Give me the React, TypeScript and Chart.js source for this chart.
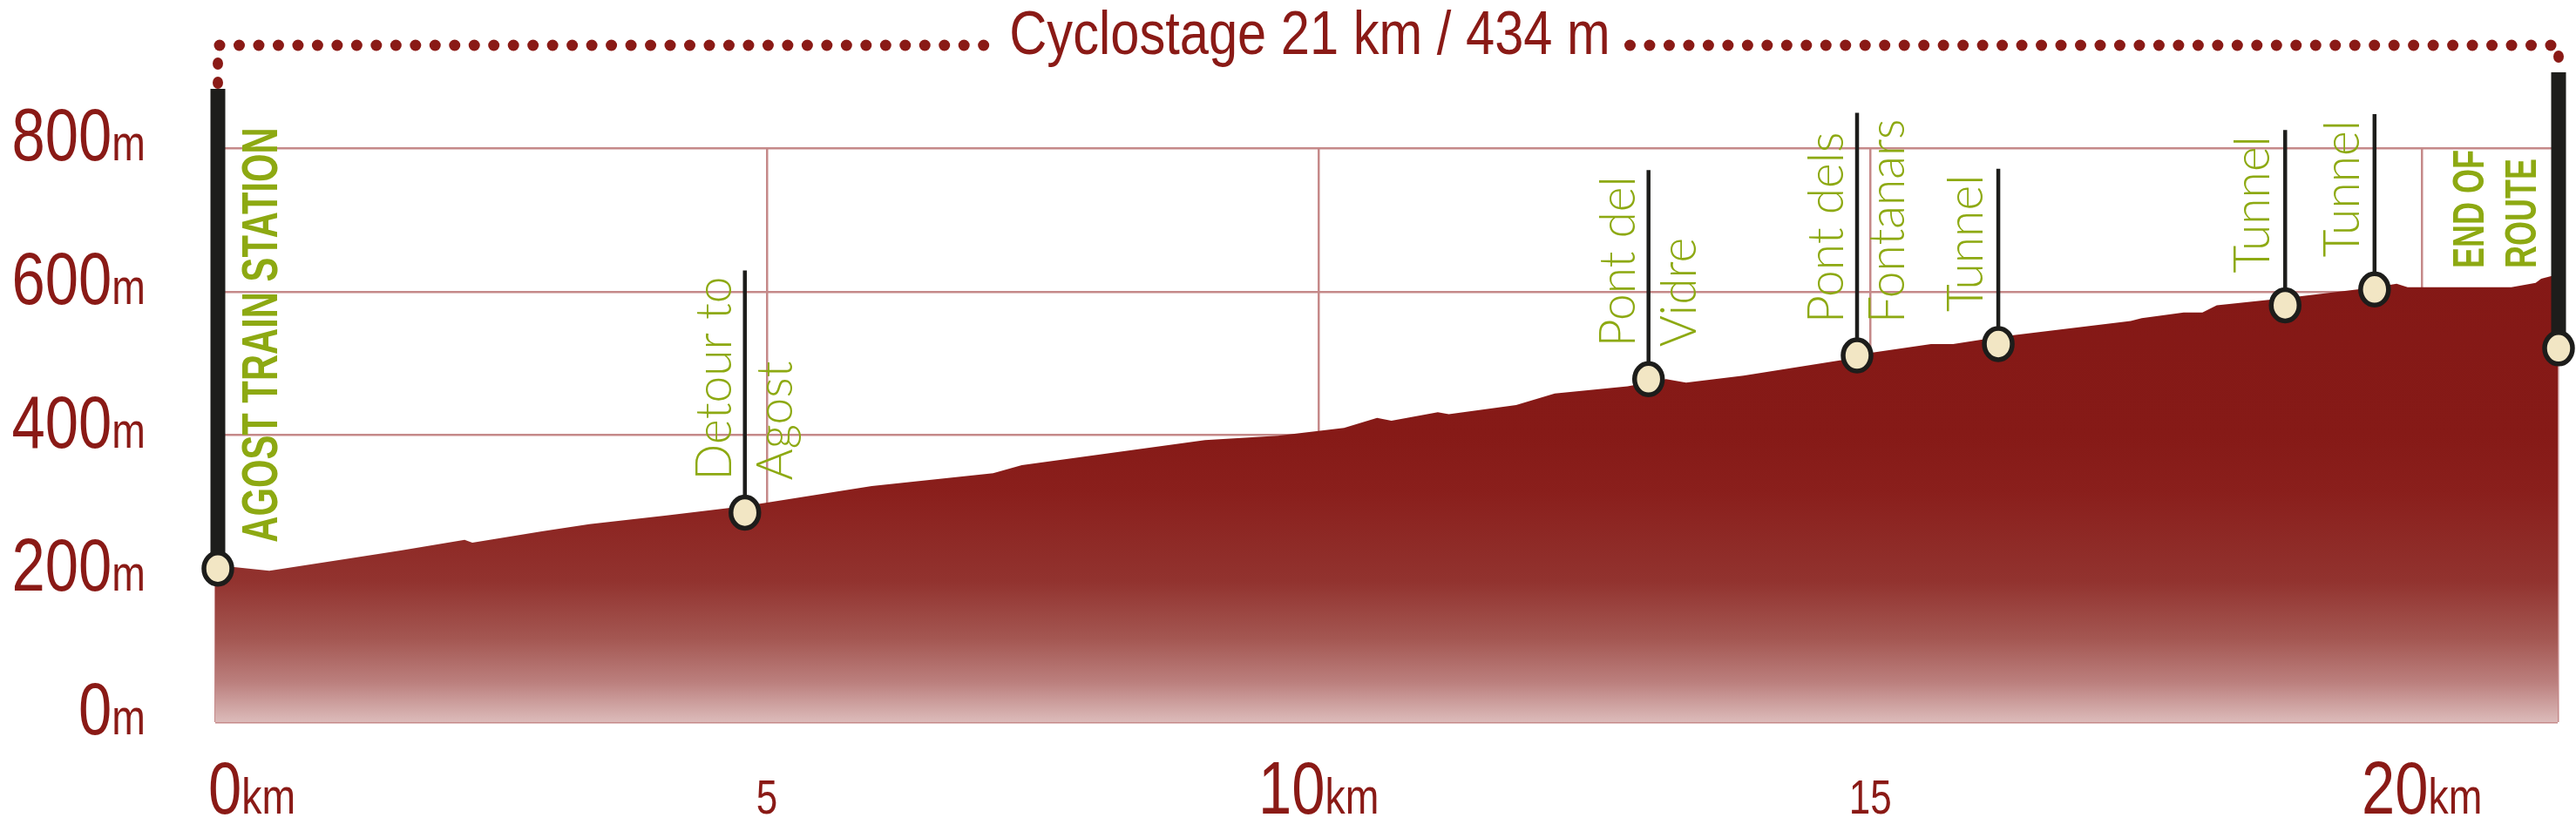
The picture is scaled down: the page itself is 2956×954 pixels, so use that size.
import React, { useEffect, useRef } from "react";
import { Chart, registerables } from "chart.js";

Chart.register(...registerables);

// ---------------- data ----------------
const TITLE = "Cyclostage 21 km / 434 m";
const ROUTE_LENGTH_KM = 21.23;

const distanceKm = [
  0, 0.17, 0.49, 1.17, 1.68, 2.26, 2.33, 2.96, 3.39, 4.09, 4.8, 5.95, 7.05, 7.31,
  8.97, 9.63, 10.23, 10.53, 10.66, 11.08, 11.18, 11.79, 12.14, 12.8, 13.15, 13.33,
  13.85, 14.76, 15.02, 15.55, 15.75, 16.17, 17.36, 17.46, 17.84, 18.01, 18.14,
  18.76, 19.58, 19.77, 19.87, 20.81, 21.03, 21.08, 21.23,
];
const elevationM = [
  214, 216, 211, 227, 239, 254, 250, 266, 276, 288, 301, 329, 347, 358,
  393, 399, 410, 424, 420, 432, 429, 442, 458, 468, 478, 473,
  483, 505, 515, 527, 527, 537, 559, 563, 571, 571, 581,
  591, 606, 611, 606, 606, 612, 618, 624,
];

const yTickValues = [0, 200, 400, 600, 800];
const yTickUnit = "m";
const xTickValues = [0, 5, 10, 15, 20];
const xTickUnits = ["km", "", "km", "", "km"];

const markerKm = [0, 4.8, 12.99, 14.88, 16.16, 18.76, 19.57, 21.23];
const markerElevation = [214, 292, 478, 511, 527, 581, 603, 521];
const markerLabels = [
  ["AGOST TRAIN STATION"],
  ["Detour to", "Agost"],
  ["Pont del", "Vidre"],
  ["Pont dels", "Fontanars"],
  ["Tunnel"],
  ["Tunnel"],
  ["Tunnel"],
  ["END OF", "ROUTE"],
];
const markerKinds = ["start", "poi", "poi", "poi", "poi", "poi", "poi", "end"];

// ---------------- styles ----------------
const RED = "#8A1A16";
const GREEN = "#8DA912";
const DARK = "#1D1D1B";
const GRID = "#C58989";
const SANS = "'Liberation Sans', Arial, sans-serif";
const BIG_FONT = `86px ${SANS}`;
const UNIT_FONT = `58px ${SANS}`;
const MINOR_FONT = `55px ${SANS}`;
const TITLE_FONT = `71px ${SANS}`;
const THIN_FONT = `300 58px Lato, 'Open Sans', sans-serif`;
const COND = 0.8;

function measure(ctx: CanvasRenderingContext2D, s: string, font: string, sx: number) {
  ctx.save();
  ctx.font = font;
  const w = ctx.measureText(s).width * sx;
  ctx.restore();
  return w;
}

function drawText(
  ctx: CanvasRenderingContext2D,
  s: string,
  x: number,
  y: number,
  font: string,
  color: string,
  sx: number,
  align: CanvasTextAlign,
  rotate = false
) {
  ctx.save();
  ctx.translate(x, y);
  if (rotate) ctx.rotate(-Math.PI / 2);
  ctx.scale(sx, 1);
  ctx.font = font;
  ctx.fillStyle = color;
  ctx.textAlign = align;
  ctx.textBaseline = "alphabetic";
  ctx.fillText(s, 0, 0);
  ctx.restore();
}

function dot(ctx: CanvasRenderingContext2D, x: number, y: number, rx: number, ry: number) {
  ctx.beginPath();
  ctx.ellipse(x, y, rx, ry, 0, 0, Math.PI * 2);
  ctx.fill();
}

const overlayPlugin = {
  id: "overlay",
  afterDatasetsDraw(chart: any) {
    const ctx: CanvasRenderingContext2D = chart.ctx;
    const xs = chart.scales.x;
    const ys = chart.scales.y;
    const area = chart.chartArea;

    // y tick labels
    const unitW = measure(ctx, yTickUnit, UNIT_FONT, COND);
    const yRight = area.left - 80;
    yTickValues.forEach((v) => {
      const py = ys.getPixelForValue(v) + 14;
      drawText(ctx, yTickUnit, yRight - unitW, py, UNIT_FONT, RED, COND, "left");
      drawText(ctx, String(v), yRight - unitW, py, BIG_FONT, RED, COND, "right");
    });

    // x tick labels
    const xBase = area.bottom + 105;
    xTickValues.forEach((v, i) => {
      const px = xs.getPixelForValue(v);
      const unit = xTickUnits[i];
      if (unit) {
        const wd = measure(ctx, String(v), BIG_FONT, COND);
        const wu = measure(ctx, unit, UNIT_FONT, COND);
        const left = v === 0 ? px - 8 : px - (wd + wu) / 2;
        drawText(ctx, String(v), left, xBase, BIG_FONT, RED, COND, "left");
        drawText(ctx, unit, left + wd, xBase, UNIT_FONT, RED, COND, "left");
      } else {
        drawText(ctx, String(v), px, xBase, MINOR_FONT, RED, COND, "center");
      }
    });

    // title + dotted frame
    const titleX = 1503;
    const titleY = 62;
    const titleSx = 0.84;
    drawText(ctx, TITLE, titleX, titleY, TITLE_FONT, RED, titleSx, "center");
    const tW = measure(ctx, TITLE, TITLE_FONT, titleSx);
    const tl = titleX - tW / 2;
    const tr = titleX + tW / 2;
    const x0 = xs.getPixelForValue(0);
    const x1 = xs.getPixelForValue(ROUTE_LENGTH_KM);
    const dotsL = x0 + 5;
    const dotsR = x1 - 8;
    const dotY = 52;
    const n = Math.round((dotsR - dotsL) / 22.5);
    const step = (dotsR - dotsL) / n;
    ctx.save();
    ctx.fillStyle = RED;
    for (let i = 0; i <= n; i++) {
      const x = dotsL + i * step;
      if (x > tl - 26 && x < tr + 16) continue;
      dot(ctx, x, dotY, 6.5, 6.5);
    }
    dot(ctx, x0 + 3, 73, 6, 7);
    dot(ctx, x0 + 3, 95, 6, 7);
    dot(ctx, x1 + 1, 65, 6, 7);
    ctx.restore();

    // markers
    const lastElevPx = ys.getPixelForValue(elevationM[elevationM.length - 1]);
    const circles: Array<[number, number]> = [];
    markerKm.forEach((km, i) => {
      const kind = markerKinds[i];
      const lines = markerLabels[i];
      const px = xs.getPixelForValue(km);
      const cy = ys.getPixelForValue(markerElevation[i]);
      ctx.save();
      ctx.fillStyle = DARK;
      ctx.strokeStyle = DARK;
      if (kind === "start") {
        const bx = px + 3;
        ctx.fillRect(bx - 8.5, 102, 17, cy - 102);
        circles.push([bx, cy]);
        const font = `bold 58px ${SANS}`;
        drawText(ctx, lines[0], bx + 68, cy - 30, font, GREEN, 0.72, "left", true);
      } else if (kind === "end") {
        const bx = px + 1;
        ctx.fillRect(bx - 8.5, 83, 17, cy - 83);
        circles.push([bx, cy]);
        const font = `bold 50px ${SANS}`;
        const sy = lastElevPx - 7;
        drawText(ctx, lines[0], bx - 86, sy, font, GREEN, 0.72, "left", true);
        drawText(ctx, lines[1], bx - 26, sy, font, GREEN, 0.72, "left", true);
      } else {
        const sy = cy - 37;
        const sx = 0.95;
        let maxLen = 0;
        lines.forEach((l) => (maxLen = Math.max(maxLen, measure(ctx, l, THIN_FONT, sx))));
        const top = sy - maxLen - 7;
        ctx.lineWidth = 4.5;
        ctx.beginPath();
        ctx.moveTo(px, top);
        ctx.lineTo(px, cy);
        ctx.stroke();
        circles.push([px, cy]);
        if (lines.length === 1) {
          drawText(ctx, lines[0], px - 18, sy, THIN_FONT, GREEN, sx, "left", true);
        } else {
          drawText(ctx, lines[0], px - 16, sy, THIN_FONT, GREEN, sx, "left", true);
          drawText(ctx, lines[1], px + 54, sy, THIN_FONT, GREEN, sx, "left", true);
        }
      }
      ctx.restore();
    });

    ctx.save();
    circles.forEach(([x, y]) => {
      ctx.beginPath();
      ctx.ellipse(x, y, 16, 18, 0, 0, Math.PI * 2);
      ctx.fillStyle = "#F2E6C4";
      ctx.fill();
      ctx.lineWidth = 5.5;
      ctx.strokeStyle = DARK;
      ctx.stroke();
    });
    ctx.restore();
  },
};

function profileGradient(context: any) {
  const chart = context.chart;
  const area = chart.chartArea;
  if (!area) return "#841816";
  const g = chart.ctx.createLinearGradient(0, area.top, 0, area.bottom);
  g.addColorStop(0, "#831715");
  g.addColorStop(0.5, "#861A17");
  g.addColorStop(0.6, "#8A1F1C");
  g.addColorStop(0.755, "#92332F");
  g.addColorStop(0.855, "#A45752");
  g.addColorStop(0.93, "#BB7F7D");
  g.addColorStop(1, "#DCBBBA");
  return g;
}

export default function App() {
  const canvasRef = useRef<HTMLCanvasElement | null>(null);

  useEffect(() => {
    const canvas = canvasRef.current;
    if (!canvas) return;
    const points = distanceKm.map((x, i) => ({ x, y: elevationM[i] }));
    const chart = new Chart(canvas, {
      type: "line",
      data: {
        datasets: [
          {
            data: points,
            fill: "origin",
            backgroundColor: profileGradient,
            borderWidth: 0,
            pointRadius: 0,
            tension: 0,
          },
        ],
      },
      options: {
        responsive: false,
        animation: false,
        devicePixelRatio: 1,
        layout: { padding: { left: 247, right: 21, top: 170, bottom: 125 } },
        plugins: { legend: { display: false }, tooltip: { enabled: false } },
        scales: {
          x: {
            type: "linear",
            min: 0,
            max: ROUTE_LENGTH_KM,
            ticks: { display: false, stepSize: 5 },
            grid: { color: GRID, lineWidth: 2.5, drawTicks: false },
            border: { display: false },
          },
          y: {
            min: 0,
            max: 800,
            ticks: { display: false, stepSize: 200 },
            grid: { color: GRID, lineWidth: 2.5, drawTicks: false },
            border: { display: false },
          },
        },
      },
      plugins: [overlayPlugin],
    } as any);
    return () => chart.destroy();
  }, []);

  return (
    <div style={{ position: "absolute", left: 0, top: 0, width: 2956, height: 954, background: "#fff" }}>
      <canvas ref={canvasRef} width={2956} height={954} style={{ display: "block" }} />
    </div>
  );
}
